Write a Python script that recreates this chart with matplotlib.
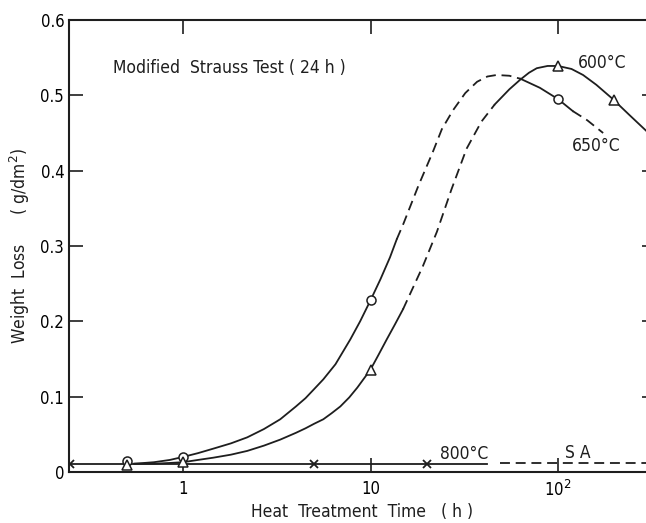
import matplotlib
matplotlib.use("Agg")
import matplotlib.pyplot as plt

# 650 C curve, read in pieces (solid / dashed / solid / dashed)
t650_a = [0.55, 0.7, 0.85, 1.0, 1.2, 1.45, 1.8, 2.2, 2.7, 3.3, 4.0, 4.5, 5.0, 5.6, 6.5, 7.8, 8.8, 10, 11.3, 12.7, 13.8]
w650_a = [0.011, 0.013, 0.016, 0.020, 0.025, 0.031, 0.038, 0.046, 0.057, 0.070, 0.087, 0.098, 0.110, 0.123, 0.143, 0.176, 0.200, 0.228, 0.256, 0.285, 0.309]
t650_b = [13.8, 15, 18, 21.5, 24, 27.5, 32, 37, 42, 47, 55, 63]
w650_b = [0.309, 0.33, 0.38, 0.425, 0.455, 0.48, 0.503, 0.518, 0.525, 0.527, 0.526, 0.522]
t650_c = [63, 80, 100, 120]
w650_c = [0.522, 0.51, 0.495, 0.479]
t650_d = [120, 143, 174]
w650_d = [0.479, 0.467, 0.450]

# 600 C curve (solid / dashed / solid)
t600_a = [0.55, 0.7, 0.85, 1.0, 1.2, 1.45, 1.8, 2.2, 2.7, 3.3, 4.0, 4.5, 5.0, 5.6, 6.2, 6.9, 7.7, 8.5, 10, 11, 12.2, 13.5, 14.9]
w600_a = [0.011, 0.011, 0.012, 0.013, 0.016, 0.019, 0.023, 0.028, 0.035, 0.043, 0.052, 0.058, 0.064, 0.070, 0.078, 0.087, 0.099, 0.112, 0.136, 0.155, 0.176, 0.196, 0.216]
t600_b = [14.9, 19, 22.6, 27, 32.5, 39, 46]
w600_b = [0.216, 0.273, 0.319, 0.375, 0.429, 0.465, 0.488]
t600_c = [46, 55, 63, 70, 77, 88, 100, 118, 136, 160, 194, 240, 295]
w600_c = [0.488, 0.508, 0.521, 0.530, 0.536, 0.539, 0.539, 0.535, 0.527, 0.514, 0.496, 0.474, 0.453]

# measured points
t650_pts = [0.5, 1, 10, 100]
w650_pts = [0.015, 0.020, 0.228, 0.495]
t600_pts = [0.5, 1, 10, 100, 200]
w600_pts = [0.009, 0.013, 0.136, 0.539, 0.494]
t800 = [0.25, 5, 20, 42]
w800 = [0.011, 0.011, 0.011, 0.011]
t800_pts = [0.25, 5, 20]
tSA = [49, 300]
wSA = [0.012, 0.012]

fnt = dict(family="DejaVu Sans", stretch="condensed")

fig = plt.figure(figsize=(6.46, 5.23), dpi=100)
ax = fig.add_axes([69/646, 51/523, 587/646, 452/523])

k = "#1e1e1e"
lw = 1.3
dsh = (5.5, 3.2)

ax.plot(t650_a, w650_a, color=k, lw=lw)
ax.plot(t650_b, w650_b, color=k, lw=lw, dashes=dsh)
ax.plot(t650_c, w650_c, color=k, lw=lw)
ax.plot(t650_d, w650_d, color=k, lw=lw, dashes=dsh)
ax.plot(t600_a, w600_a, color=k, lw=lw)
ax.plot(t600_b, w600_b, color=k, lw=lw, dashes=dsh)
ax.plot(t600_c, w600_c, color=k, lw=lw)
ax.plot(t800, w800, color=k, lw=lw)
ax.plot(tSA, wSA, color=k, lw=lw, dashes=dsh)

ax.plot(t650_pts, w650_pts, "o", ms=6.5, mfc="white", mec=k, mew=1.1, zorder=5)
ax.plot(t600_pts, w600_pts, "^", ms=6.5, mfc="white", mec=k, mew=1.1, zorder=5)
ax.plot(t800_pts, w800[:3], "x", ms=5.5, color=k, mew=1.3, zorder=5)

ax.set_xscale("log")
ax.set_xlim(0.2465, 333)
ax.set_ylim(0, 0.6)
ax.set_xticks([1, 10, 100])
ax.set_xticklabels(["1", "10", "10$^2$"], **fnt)
ax.xaxis.set_minor_locator(matplotlib.ticker.NullLocator())
ax.set_yticks([0, 0.1, 0.2, 0.3, 0.4, 0.5, 0.6])
ax.set_yticklabels(["0", "0.1", "0.2", "0.3", "0.4", "0.5", "0.6"], **fnt)
ax.tick_params(direction="in", length=10, width=1.2, labelsize=12, color=k,
               top=True, right=True)
ax.tick_params(axis="x", pad=6)
for s in ax.spines.values():
    s.set_linewidth(1.5)
    s.set_color(k)
ax.spines["right"].set_visible(False)

ax.text(0.423, 0.536, "Modified  Strauss Test ( 24 h )", fontsize=12.5, va="center", color=k, **fnt)
ax.text(128, 0.543, "600°C", fontsize=12.5, va="center", color=k, **fnt)
ax.text(119, 0.433, "650°C", fontsize=12.5, va="center", color=k, **fnt)
ax.text(23.5, 0.024, "800°C", fontsize=12.5, va="center", color=k, **fnt)
ax.text(128, 0.025, "S A", fontsize=12.5, va="center", ha="center", color=k, **fnt)

ax.set_xlabel("Heat  Treatment  Time   ( h )", fontsize=12.5, color=k, labelpad=1.5, **fnt)
ax.set_ylabel("Weight  Loss      ( g/dm$^2$)", fontsize=12.5, color=k, labelpad=6, **fnt)

fig.savefig("out.png", dpi=100)
